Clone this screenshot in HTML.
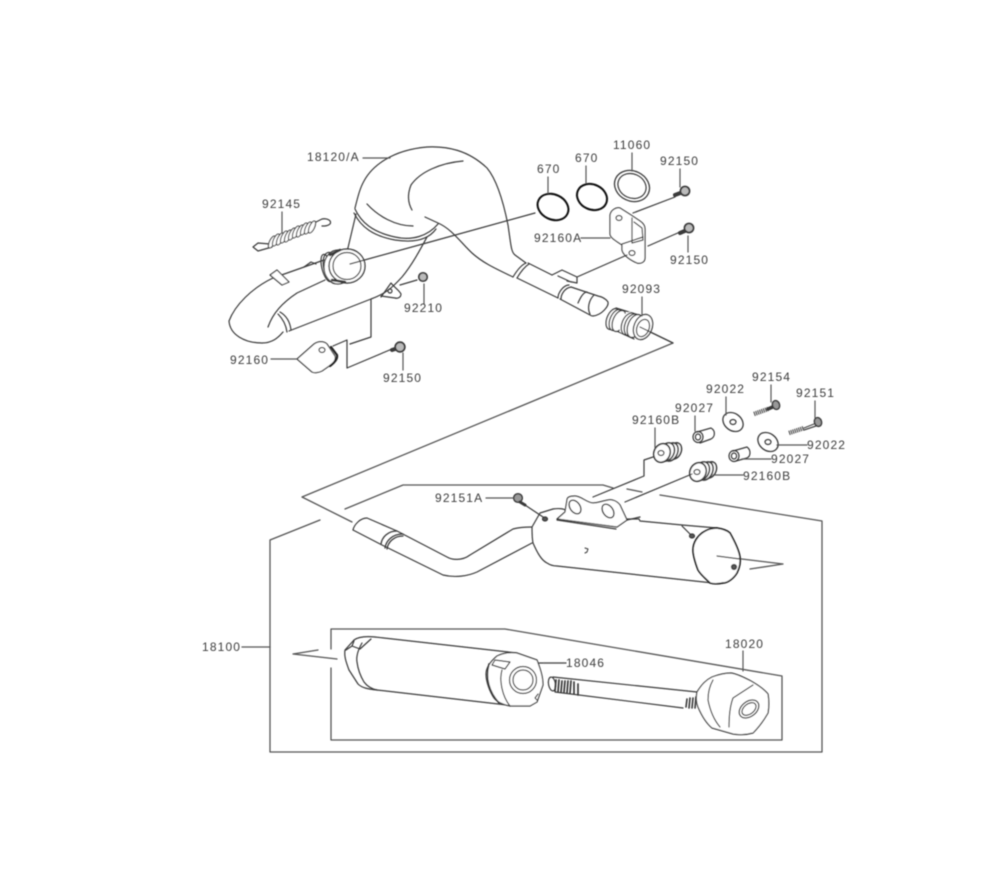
<!DOCTYPE html>
<html><head><meta charset="utf-8"><style>
html,body{margin:0;padding:0;background:#fff;width:1000px;height:880px;overflow:hidden}
svg{display:block}
text{font-family:"Liberation Sans",sans-serif;font-size:12px;letter-spacing:1.15px;fill:#3c3c3c}
</style></head><body>
<svg width="1000" height="880" viewBox="0 0 1000 880" xmlns="http://www.w3.org/2000/svg">
<defs><filter id="b" x="-5%" y="-5%" width="110%" height="110%"><feGaussianBlur stdDeviation="0.45"/></filter></defs>
<g filter="url(#b)">
<g fill="none" stroke="#3a3a3a" stroke-width="1.2" stroke-linejoin="round" stroke-linecap="round">
<!-- frames -->
<g stroke="#555" stroke-width="1.3">
<path d="M640 327L673 343L302 497L352 522"/>
<path d="M320 520L270 540V752H822V521L660 495"/>
<path d="M627 489L642 492M613 488L603 485H403L345 509"/>
<path d="M331 649V629H505L782 676V740H331V668"/>
<path d="M318 650L293 654L337 659"/>
<path d="M717 556L783 564L750 569"/>
<path d="M242 647H270"/>
</g>
<!-- header pipe -->
<path d="M355 208C358 196 360 188 364 181C372 166 392 150 427 147C447 146 468 150 487 168C497 180 504 205 508 225C511 245 511 252 515 255L526 263"/>
<path d="M463 161C440 163 420 172 411 185C407 195 408 203 412 210"/>
<path d="M425 217L438 223C452 229 462 244 472 253C482 262 492 267 513 277"/>
<path d="M355 209C361 222 372 232 395 237C412 241 428 236 438 224M354 213C361 227 373 236 395 240C414 243 428 240 436 229"/>
<path d="M367 204C378 216 395 226 413 226"/>
<path d="M356 214L347 252"/>
<path d="M427 237C420 250 412 265 402 277C392 288 385 294 371 299L289 331"/>
<path d="M324 260L273 278C252 288 235 305 229 321C230 335 245 343 262 343C272 343 278 338 283 332"/>
<path d="M325 280L297 293C282 303 273 313 268 327"/>
<path d="M280 312C287 316 290 322 291 330M278 314C283 319 286 325 287 332"/>
<path d="M304 267L311 262L316 264"/>
<path d="M270 275L277 270L289 282L282 285Z" fill="#fff"/>
<!-- port -->
<ellipse cx="327" cy="268" rx="5" ry="14" transform="rotate(-15 327 268)"/>
<ellipse cx="332" cy="268" rx="8" ry="16" transform="rotate(-15 332 268)"/>
<ellipse cx="338" cy="267" rx="14" ry="17" fill="#fff"/>
<ellipse cx="347" cy="266" rx="18" ry="17" fill="#fff" stroke-width="1.4"/>
<ellipse cx="347" cy="266" rx="14" ry="13.5"/>
<path d="M330 255L340 250M332 280L345 282" stroke-width="2.5"/>
<path d="M350 264L430 242L535 213"/>
<!-- tailpipe end -->
<path d="M513 277C516 272 521 265 526 263M517 278C520 273 524 267 529 264"/>
<path d="M528 263L552 275M517 278L558 298"/>
<path d="M552 275L562 270L577 277V283L567 281M558 276L571 282"/>
<path d="M558 298C558 292 564 285 569 285M561 299C561 294 565 288 571 287"/>
<path d="M571 287L598 296C603 297 606 299 608 302C609 306 602 315 593 316C591 316 590 315 590 315L560 299"/>
<path d="M578 303C581 296 584 292 587 292M590 314C587 308 589 300 594 295"/>
<!-- 92093 -->
<path d="M616 308L642 316M610 328L634 339"/>
<g fill="#fff" stroke-width="1.3">
<ellipse cx="613" cy="319" rx="6" ry="11" transform="rotate(22 613 319)"/>
<ellipse cx="616" cy="320" rx="6" ry="11" transform="rotate(22 616 320)"/>
<ellipse cx="619" cy="321" rx="6" ry="11" transform="rotate(22 619 321)"/>
<ellipse cx="627" cy="323" rx="7" ry="11.5" transform="rotate(22 627 323)" stroke="none"/>
<ellipse cx="629" cy="324" rx="7" ry="11.5" transform="rotate(22 629 324)"/>
<ellipse cx="632" cy="325" rx="7" ry="11.5" transform="rotate(22 632 325)"/>
<ellipse cx="635" cy="326" rx="7" ry="12" transform="rotate(22 635 326)"/>
<ellipse cx="643" cy="327" rx="9" ry="13" transform="rotate(22 643 327)"/>
</g>
<ellipse cx="643" cy="328" rx="6" ry="9" transform="rotate(22 643 328)"/>
<path d="M640 327L673 343"/>
<!-- O rings -->
<ellipse cx="553" cy="207" rx="16" ry="12.5" transform="rotate(25 553 207)" stroke="#111" stroke-width="2"/>
<ellipse cx="592" cy="197" rx="15.5" ry="12.5" transform="rotate(25 592 197)" stroke="#111" stroke-width="2"/>
<ellipse cx="632" cy="186" rx="18" ry="15" transform="rotate(25 632 186)" stroke-width="1.3"/>
<ellipse cx="632" cy="186" rx="14.5" ry="12" transform="rotate(25 632 186)"/>
<!-- 92160A bracket -->
<path d="M610 215C611 210 616 207 620 208L631 215L640 221C643 223 645 226 645 229L645 258C645 262 641 264 637 263C630 260 623 255 622 250L622 245C618 242 610 238 610 234Z" fill="#fff"/>
<path d="M632 218V243M634 222L642 228L643 240L632 243M622 244L643 237"/>
<ellipse cx="619" cy="218" rx="3" ry="2.5"/>
<ellipse cx="632" cy="253" rx="3" ry="2.5"/>
<path d="M633 213L675 197M648 246L680 232M577 277L627 255"/>
<path d="M675 195L683 192" stroke-width="4"/>
<ellipse cx="685" cy="191" rx="4.5" ry="4.5" fill="#bbb" stroke-width="1.8"/>
<path d="M680 233L687 230" stroke-width="4"/>
<ellipse cx="689" cy="228" rx="4.5" ry="4.5" fill="#bbb" stroke-width="1.8"/>
<!-- 92145 spring -->
<path d="M270 244L258 243L253 247L258 251L272 247"/>
<path d="M308 226L322 219C328 218 332 221 330 224C328 226 325 226 322 226"/>
<g stroke-width="1.1">
<ellipse cx="272" cy="242" rx="2.5" ry="6.5" transform="rotate(25 272 242)" fill="#fff"/>
<ellipse cx="276" cy="240" rx="2.5" ry="6.5" transform="rotate(25 276 240)" fill="#fff"/>
<ellipse cx="280" cy="239" rx="2.5" ry="6.5" transform="rotate(25 280 239)" fill="#fff"/>
<ellipse cx="284" cy="237" rx="2.5" ry="6.5" transform="rotate(25 284 237)" fill="#fff"/>
<ellipse cx="288" cy="236" rx="2.5" ry="6.5" transform="rotate(25 288 236)" fill="#fff"/>
<ellipse cx="292" cy="234" rx="2.5" ry="6.5" transform="rotate(25 292 234)" fill="#fff"/>
<ellipse cx="296" cy="232" rx="2.5" ry="6.5" transform="rotate(25 296 232)" fill="#fff"/>
<ellipse cx="300" cy="231" rx="2.5" ry="6.5" transform="rotate(25 300 231)" fill="#fff"/>
<ellipse cx="304" cy="229" rx="2.5" ry="6.5" transform="rotate(25 304 229)" fill="#fff"/>
<ellipse cx="308" cy="228" rx="2.5" ry="6.5" transform="rotate(25 308 228)" fill="#fff"/>
<ellipse cx="312" cy="227" rx="2.5" ry="6.5" transform="rotate(25 312 227)" fill="#fff"/>
</g>
<!-- small tab and 92210 -->
<path d="M381 297L391 283C395 288 399 290 401 294C401 297 398 299 395 298L381 296"/>
<circle cx="390" cy="291" r="2"/>
<path d="M400 285L417 280"/>
<circle cx="423" cy="277" r="4.2" fill="#bbb" stroke-width="1.7"/>
<!-- 92160 bracket + bolt -->
<path d="M297 359L314 344C318 341 324 341 327 344L335 356C336 359 334 362 332 364L322 371C318 373 314 373 312 372Z" fill="#fff"/>
<ellipse cx="322" cy="350" rx="3" ry="2.5"/>
<path d="M331 347L337 355C338 359 334 363 330 366" stroke-width="2.2" stroke="#222"/>
<path d="M333 346L347 340V368L392 349M350 344L371 337V300"/>
<path d="M392 350L398 348" stroke-width="4"/>
<circle cx="400" cy="347" r="4.8" fill="#bbb" stroke-width="1.8"/>
<!-- 92160B grommets -->
<g stroke-width="1.6" fill="#fff">
<ellipse cx="675" cy="451" rx="6" ry="8.5" transform="rotate(25 675 451)"/>
<ellipse cx="671" cy="452" rx="6.5" ry="9.5" transform="rotate(25 671 452)"/>
<ellipse cx="667" cy="452" rx="7" ry="9.5" transform="rotate(25 667 452)"/>
<ellipse cx="662" cy="453" rx="8" ry="9.5" transform="rotate(25 662 453)"/>
<ellipse cx="710" cy="470" rx="6" ry="8.5" transform="rotate(25 710 470)"/>
<ellipse cx="706" cy="471" rx="6.5" ry="9.5" transform="rotate(25 706 471)"/>
<ellipse cx="702" cy="471" rx="7" ry="9.5" transform="rotate(25 702 471)"/>
<ellipse cx="698" cy="472" rx="8" ry="9.5" transform="rotate(25 698 472)"/>
</g>
<ellipse cx="661" cy="453" rx="3" ry="2.5"/>
<ellipse cx="697" cy="472" rx="3" ry="2.5"/>
<path d="M653 457L644 460V476L593 497M692 474L625 502"/>
<!-- washers -->
<ellipse cx="733" cy="422" rx="11" ry="8.5" transform="rotate(38 733 422)" stroke-width="1.3"/>
<ellipse cx="733" cy="422" rx="3" ry="2.5"/>
<ellipse cx="768" cy="442" rx="11" ry="8.5" transform="rotate(38 768 442)" stroke-width="1.3"/>
<ellipse cx="768" cy="442" rx="3" ry="2.5"/>
<!-- sleeves -->
<path d="M697 432L711 428C716 431 715 437 711 439L700 443"/>
<ellipse cx="698" cy="437" rx="5" ry="5.5"/><ellipse cx="698" cy="437" rx="2.6" ry="3"/>
<path d="M733 451L747 447C751 450 751 456 747 458L736 461"/>
<ellipse cx="734" cy="456" rx="5" ry="5.5"/><ellipse cx="734" cy="456" rx="2.6" ry="3"/>
<!-- bolts -->
<path d="M754 414L768 409" stroke="#555" stroke-width="4.5" stroke-dasharray="1.2 .8" stroke-linecap="butt"/>
<path d="M768 409L775 406" stroke-width="3.5"/>
<ellipse cx="776" cy="405" rx="3.5" ry="4.5" fill="#999" transform="rotate(-20 776 405)" stroke-width="1.5"/>
<path d="M789 433L804 428" stroke="#555" stroke-width="4.5" stroke-dasharray="1.2 .8" stroke-linecap="butt"/>
<path d="M804 428L814 424" stroke="#444" stroke-width="1.2"/>
<path d="M804 430L816 426" stroke="#444" stroke-width="1.2"/>
<ellipse cx="818" cy="422" rx="3.5" ry="4.5" fill="#999" transform="rotate(-20 818 422)" stroke-width="1.5"/>
<!-- 92151A bolt -->
<circle cx="518" cy="498" r="4.3" fill="#999" stroke-width="1.5"/>
<path d="M520 502L525 505" stroke-width="3"/>
<path d="M525 505L543 517"/>
<!-- muffler -->
<path d="M553 509L540 513L532 527C532 533 532 538 533 543C537 552 541 560 547 563C550 565 553 566 557 566L713 583"/>
<path d="M553 509C560 508 564 509 565 510M620 519L639 519L640 521L682 525L717 528"/>
<path d="M557 519L617 527L627 520L620 505C617 501 612 499 608 500C602 501 598 503 593 503C587 503 581 496 575 496C571 496 567 497 567 500L565 512Z" fill="#fff"/>
<path d="M557 520L616 529M627 520L640 517"/>
<ellipse cx="575" cy="507" rx="5" ry="7.5" transform="rotate(-35 575 507)" stroke-width="1.4"/>
<ellipse cx="608" cy="511" rx="5" ry="7.5" transform="rotate(-35 608 511)" stroke-width="1.4"/>
<path d="M682 526L692 536"/>
<path d="M702 533C708 529 712 528 717 528C724 529 728 531 730 533C735 542 739 550 740 557C741 564 739 569 737 573C734 578 728 583 723 583C718 584 713 584 710 583C705 578 701 575 698 570C695 562 693 556 693 550C693 542 698 536 702 533Z" fill="#fff" stroke="#222" stroke-width="1.7"/>
<ellipse cx="545" cy="519" rx="2.5" ry="2" fill="#555"/>
<ellipse cx="692" cy="536" rx="2.5" ry="2" fill="#555"/>
<ellipse cx="734" cy="567" rx="2.5" ry="2.5" fill="#555"/>
<path d="M717 556L740 559"/>
<path d="M585 548L588 549L587 552L585 553" stroke-width="1"/>
<path d="M353 530C354 525 360 518 367 518L397 531L447 557C452 560 462 561 470 555L513 529C520 527 526 527 532 527"/>
<path d="M353 530L382 545L443 575C455 578 468 576 477 572L532 543"/>
<path d="M381 544C382 537 388 531 397 531M385 548C386 541 392 534 403 534M387 549C388 542 394 536 403 536" stroke-width="1.3"/>
<!-- muffler 2 -->
<path d="M375 637L517 653M377 690L507 705"/>
<path d="M375 637C365 636 358 637 354 640L345 650C344 656 346 662 349 670L358 684C362 688 368 689 377 690"/>
<path d="M362 643C358 650 356 656 357 662C358 670 361 677 364 682C367 686 372 689 377 690"/>
<path d="M354 641L352 646L360 649L371 639M346 650L352 646"/>
<path d="M497 656C490 662 486 668 486 674C486 682 490 692 494 698C498 703 505 705 510 706L530 706L537 702L543 685C543 676 540 668 537 660L517 653C510 652 503 653 497 656Z" fill="#fff"/>
<path d="M489 664C485 678 489 692 499 703" stroke-width="1.6"/>
<path d="M495 660L510 662L505 669L492 665Z" fill="#fff"/>
<path d="M502 670C499 680 502 696 510 706"/>
<path d="M537 700L535 698L538 694"/>
<circle cx="523" cy="680" r="13.5"/>
<circle cx="523" cy="680" r="10"/>
<path d="M539 663H566"/>
<!-- bolt long -->
<path d="M553 677L697 692M555 692L683 708"/>
<ellipse cx="552" cy="684" rx="3.5" ry="7" transform="rotate(-10 552 684)"/>
<path d="M556 680L555 691M559 680L558 692M562 681L561 692M565 681L564 692M568 681L567 693M571 681L570 693M574 682L574 694M578 684L578 695" stroke-width="1.7"/>
<path d="M687 699L686 707M690 698L689 708M693 698L692 708M696 697L695 708" stroke-width="1.6"/>
<!-- cap -->
<path d="M697 692C702 684 706 680 712 677C720 674 726 673 731 673C738 674 745 678 751 681C758 685 764 689 768 694C769 700 769 707 768 713C764 720 758 728 753 733C746 735 739 735 733 734L712 728C706 723 701 714 698 707C696 702 696 697 697 692Z" fill="#fff"/>
<path d="M713 680C709 687 708 693 708 700C710 710 714 720 720 727M753 685L733 698C730 706 729 716 729 727"/>
<ellipse cx="749" cy="709" rx="11" ry="7.5" transform="rotate(-38 749 709)" stroke-width="1.3"/>
<ellipse cx="749" cy="709" rx="8" ry="5" transform="rotate(-38 749 709)"/>
<!-- leaders -->
<g stroke="#555" stroke-width="1.2">
<path d="M363 158H390M282 212V232M548 177V193M586 166V183M632 153V171M680 169V187M688 236V252M581 238H610M642 297V316"/>
<path d="M424 284V304M271 359H297M403 353V370"/>
<path d="M771 385V402M815 401V418M726 397V415M695 416V431M655 428V448M777 445H807M742 459H771M713 475H743"/>
<path d="M486 498H513M544 663H564M743 651V671"/>
</g>
</g>
<text x="307" y="161">18120/A</text>
<text x="262" y="208">92145</text>
<text x="537" y="173">670</text>
<text x="575" y="162">670</text>
<text x="613" y="149">11060</text>
<text x="660" y="165">92150</text>
<text x="534" y="242">92160A</text>
<text x="670" y="264">92150</text>
<text x="622" y="293">92093</text>
<text x="404" y="312">92210</text>
<text x="230" y="364">92160</text>
<text x="383" y="382">92150</text>
<text x="752" y="381">92154</text>
<text x="796" y="397">92151</text>
<text x="706" y="393">92022</text>
<text x="675" y="412">92027</text>
<text x="632" y="424">92160B</text>
<text x="807" y="449">92022</text>
<text x="771" y="463">92027</text>
<text x="743" y="480">92160B</text>
<text x="435" y="502">92151A</text>
<text x="202" y="651">18100</text>
<text x="566" y="667">18046</text>
<text x="725" y="648">18020</text>
</g>
</svg>
</body></html>
